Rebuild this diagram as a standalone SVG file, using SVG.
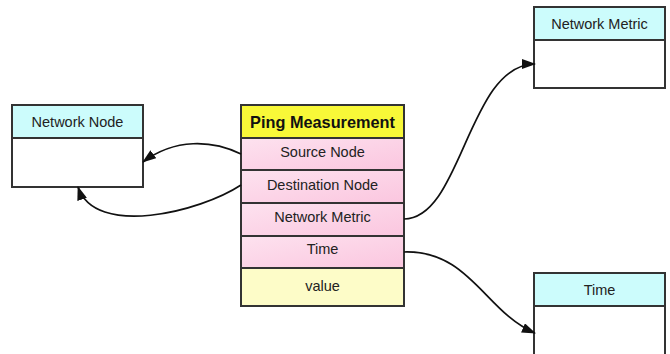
<svg xmlns="http://www.w3.org/2000/svg" width="670" height="354" viewBox="0 0 670 354">
<style>
.box{stroke:#333;stroke-width:2}
.hdr{fill:#ccfcfc}
.body{fill:#fff}
.t{font-family:"Liberation Sans",Arial,sans-serif;font-size:14.5px;fill:#222;text-anchor:middle}
.tb{font-family:"Liberation Sans",Arial,sans-serif;font-size:16.3px;font-weight:bold;fill:#111;text-anchor:middle}
.row{fill:url(#pink)}
.c{fill:none;stroke:#111;stroke-width:1.7}
</style>
<defs>
<linearGradient id="pink" x1="0" y1="0" x2="1" y2="1">
<stop offset="0" stop-color="#fde2ef"/>
<stop offset="1" stop-color="#fbc6df"/>
</linearGradient>
<marker id="ah" markerWidth="14" markerHeight="10" refX="13" refY="5" orient="auto" markerUnits="userSpaceOnUse">
<path d="M0,0 L14,5 L0,10 z" fill="#111"/>
</marker>
</defs>
<g id="network-node">
<rect class="box hdr" x="12" y="105" width="131" height="33"/>
<rect class="box body" x="12" y="138" width="131" height="49"/>
<text class="t" x="77.5" y="127">Network Node</text>
</g>
<g id="network-metric">
<rect class="box hdr" x="534" y="7" width="131" height="33"/>
<rect class="box body" x="534" y="40" width="131" height="48"/>
<text class="t" x="599.5" y="29">Network Metric</text>
</g>
<g id="time">
<rect class="box hdr" x="534" y="273" width="131" height="33"/>
<rect class="box body" x="534" y="306" width="131" height="60"/>
<text class="t" x="599.5" y="295">Time</text>
</g>
<g id="ping-measurement">
<rect class="box" fill="#f8f838" x="241" y="105" width="163" height="33"/>
<text class="tb" x="322.5" y="128">Ping Measurement</text>
<rect class="box row" x="241" y="138" width="163" height="32"/>
<text class="t" x="322.5" y="157">Source Node</text>
<rect class="box row" x="241" y="170" width="163" height="33"/>
<text class="t" x="322.5" y="190">Destination Node</text>
<rect class="box row" x="241" y="203" width="163" height="33"/>
<text class="t" x="322.5" y="222">Network Metric</text>
<rect class="box row" x="241" y="236" width="163" height="32"/>
<text class="t" x="322.5" y="254">Time</text>
<rect class="box" fill="#fdfcc8" x="241" y="268" width="163" height="38"/>
<text class="t" x="322.5" y="291">value</text>
</g>
<g id="connectors">
<path class="c" marker-end="url(#ah)" d="M241,154 C212,140 175,138 143,162"/>
<path class="c" marker-end="url(#ah)" d="M241,185 C200,212 95,238 78,187"/>
<path class="c" marker-end="url(#ah)" d="M404,219 C462,219 468,64 535,64"/>
<path class="c" marker-end="url(#ah)" d="M404,252 C470,250 485,312 535,333"/>
</g>
</svg>
